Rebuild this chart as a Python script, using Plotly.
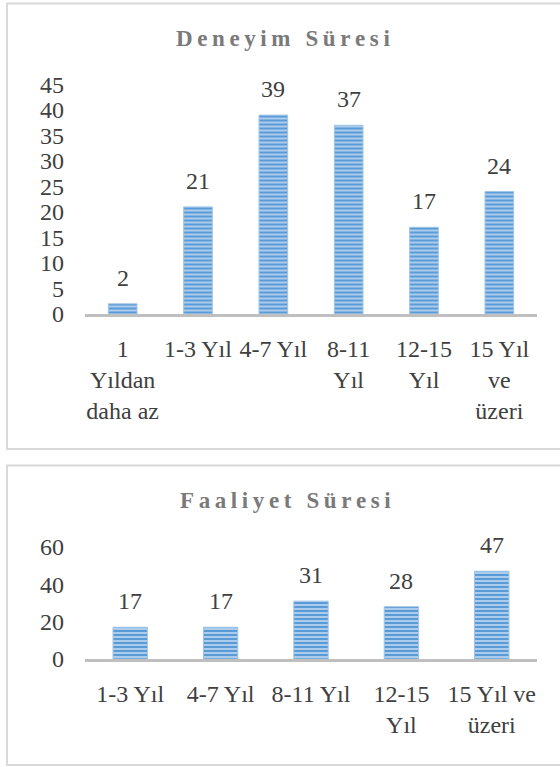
import plotly.graph_objects as go

# ---- data ----
deneyim_categories = ["1 Yıldan daha az", "1-3 Yıl", "4-7 Yıl", "8-11 Yıl", "12-15 Yıl", "15 Yıl ve üzeri"]
deneyim_ticklabels = ["1<br>Yıldan<br>daha az", "1-3 Yıl", "4-7 Yıl", "8-11<br>Yıl", "12-15<br>Yıl", "15 Yıl<br>ve<br>üzeri"]
deneyim_values = [2, 21, 39, 37, 17, 24]

faaliyet_categories = ["1-3 Yıl", "4-7 Yıl", "8-11 Yıl", "12-15 Yıl", "15 Yıl ve üzeri"]
faaliyet_ticklabels = ["1-3 Yıl", "4-7 Yıl", "8-11 Yıl", "12-15<br>Yıl", "15 Yıl ve<br>üzeri"]
faaliyet_values = [17, 17, 31, 28, 47]

title_top = "Deneyim Süresi"
title_bottom = "Faaliyet Süresi"

# ---- style ----
W, H = 560, 767
FONT = "Liberation Serif"
TXT = "#404040"
SP = "\u2009"


def spaced(s):
    return SP.join(list(s))


def bar_marker():
    return dict(
        color="#5b9bd5",
        pattern=dict(shape="-", fgcolor="#b4d2ef", bgcolor="#5b9bd5", size=4, solidity=0.45),
        line=dict(color="#9dc3e6", width=1),
    )


fig = go.Figure()
fig.add_trace(go.Bar(x=deneyim_categories, y=deneyim_values, marker=bar_marker(),
                     xaxis="x", yaxis="y", showlegend=False, hoverinfo="skip"))
fig.add_trace(go.Bar(x=faaliyet_categories, y=faaliyet_values, marker=bar_marker(),
                     xaxis="x2", yaxis="y2", showlegend=False, hoverinfo="skip"))

annotations = []
for c, v in zip(deneyim_categories, deneyim_values):
    annotations.append(dict(x=c, y=v, xref="x", yref="y", text=str(v), showarrow=False,
                            yanchor="middle", yshift=26, font=dict(family=FONT, size=24, color=TXT)))
for c, v in zip(faaliyet_categories, faaliyet_values):
    annotations.append(dict(x=c, y=v, xref="x2", yref="y2", text=str(v), showarrow=False,
                            yanchor="middle", yshift=26, font=dict(family=FONT, size=24, color=TXT)))

annotations.append(dict(x=283 / W, y=1 - 38 / H, xref="paper", yref="paper", text=spaced(title_top),
                        xanchor="center", yanchor="middle", showarrow=False,
                        font=dict(family=FONT, size=23, color="#7a7a7a", weight="bold")))
annotations.append(dict(x=285 / W, y=1 - 500 / H, xref="paper", yref="paper", text=spaced(title_bottom),
                        xanchor="center", yanchor="middle", showarrow=False,
                        font=dict(family=FONT, size=23, color="#7a7a7a", weight="bold")))

shapes = [
    dict(type="rect", xref="paper", yref="paper", x0=7 / W, x1=570 / W, y0=1 - 449 / H, y1=1 - 3.5 / H,
         line=dict(color="#d9d9d9", width=2), fillcolor="rgba(0,0,0,0)"),
    dict(type="rect", xref="paper", yref="paper", x0=7 / W, x1=570 / W, y0=1 - 765 / H, y1=1 - 465.5 / H,
         line=dict(color="#d9d9d9", width=2), fillcolor="rgba(0,0,0,0)"),
]

xdom = [85 / W, 537 / W]
xcommon = dict(showline=True, linecolor="#bfbfbf", linewidth=3, ticks="", showgrid=False,
               zeroline=False, tickfont=dict(family=FONT, size=24, color=TXT),
               ticklabelstandoff=11, fixedrange=True, tickangle=0, automargin=False)
ycommon = dict(showline=False, ticks="", showgrid=False, zeroline=False,
               tickfont=dict(family=FONT, size=24, color=TXT), ticklabelstandoff=20,
               fixedrange=True, automargin=False)

fig.update_layout(
    template="none",
    width=W, height=H,
    margin=dict(l=0, r=0, t=0, b=0, pad=0),
    paper_bgcolor="white", plot_bgcolor="white",
    bargap=0.62,
    font=dict(family=FONT, color=TXT),
    xaxis=dict(domain=xdom, anchor="y", tickmode="array", tickvals=deneyim_categories,
               ticktext=deneyim_ticklabels, **xcommon),
    yaxis=dict(domain=[1 - 314 / H, 1 - 84.5 / H], anchor="x", range=[0, 45], dtick=5, **ycommon),
    xaxis2=dict(domain=xdom, anchor="y2", tickmode="array", tickvals=faaliyet_categories,
                ticktext=faaliyet_ticklabels, **xcommon),
    yaxis2=dict(domain=[1 - 659 / H, 1 - 547 / H], anchor="x2", range=[0, 60], dtick=20, **ycommon),
    annotations=annotations,
    shapes=shapes,
)

fig.write_html("out.html")
